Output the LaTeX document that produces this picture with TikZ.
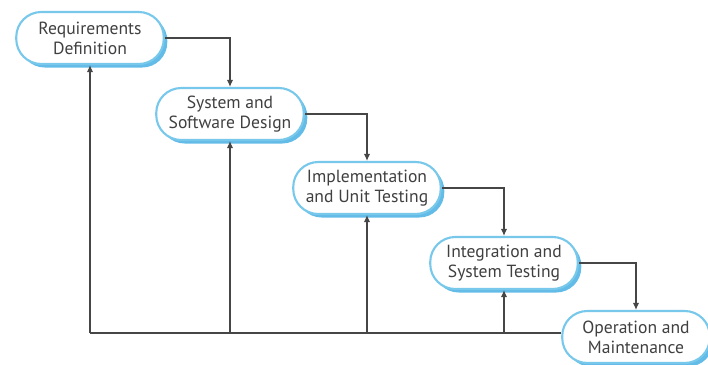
\documentclass[tikz,border=0pt]{standalone}
\usepackage{fontspec}
\setsansfont{PT Sans}
\usetikzlibrary{arrows.meta,shadows}

\definecolor{boxline}{RGB}{120,200,235}
\definecolor{boxshade}{RGB}{60,170,225}
\definecolor{wire}{RGB}{70,70,70}

\begin{document}
\begin{tikzpicture}
    \useasboundingbox (0,0) rectangle (14.16,7.3);

        \begin{scope}[every node/.style={draw=boxline,very thick,fill=white,rounded corners=0.5cm,
                minimum width=2.95cm,minimum height=1.04cm,align=center,
                font=\sffamily\fontsize{10}{11.5}\selectfont,text=black!75,
                drop shadow={fill=boxshade,shadow xshift=2pt,shadow yshift=-2pt,opacity=0.8}}]
            \node (1) at (1.8,6.54) {Requirements\\Definition};
            \node (2) at (4.6,5.02) {System and\\Software Design};
            \node (3) at (7.34,3.54) {Implementation\\and Unit Testing};
            \node (4) at (10.08,2.04) {Integration and\\System Testing};
            \node (5) at (12.72,0.56) {Operation and\\Maintenance};
        \end{scope}

        \begin{scope}[every path/.style={draw=wire,line width=0.6pt}, >={Latex[length=4pt,width=3.5pt]}]
            \draw [->] (1.east) -| (2.north);
            \draw [->] (2.east) -| (3.north);
            \draw [->] (3.east) -| (4.north);
            \draw [->] (4.east) -| (5.north);

            \coordinate (f) at (1.8,0.64);
            \draw (f) -- (f -| 5.west);
            \draw [->] (f) -- (1.south);
            \draw [->] (f -| 2.south) -- (2.south);
            \draw [->] (f -| 3.south) -- (3.south);
            \draw [->] (f -| 4.south) -- (4.south);
        \end{scope}

    \end{tikzpicture}
\end{document}
